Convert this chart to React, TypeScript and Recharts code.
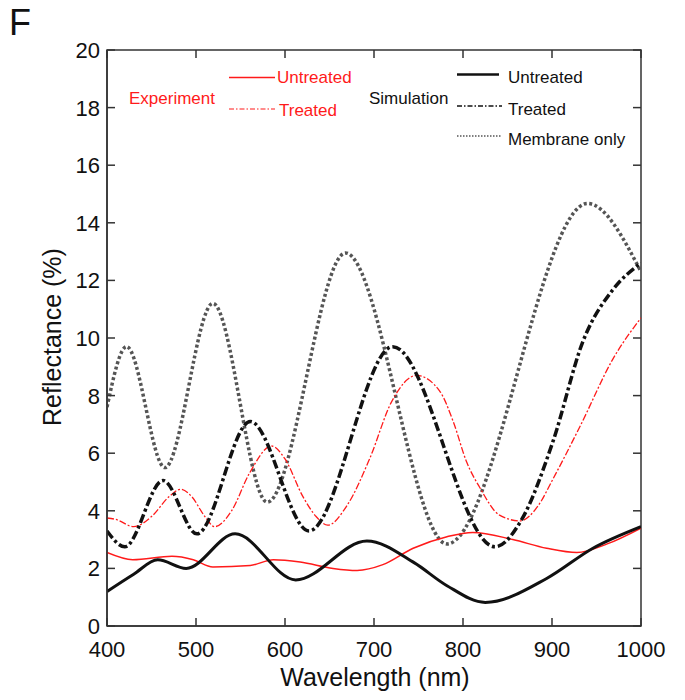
import {
  LineChart,
  Line,
  XAxis,
  YAxis,
  ReferenceArea,
} from "recharts";

// wavelength (nm) / reflectance (%) pairs
const membraneOnly = [
  [400, 7.6], [422, 9.7], [465, 5.5], [519, 11.2], [580, 4.3],
  [668, 12.95], [782, 2.85], [940, 14.67], [1000, 12.3],
];
const simTreated = [
  [400, 3.3], [420, 2.75], [463, 5.05], [501, 3.2], [561, 7.1],
  [627, 3.3], [721, 9.7], [836, 2.75], [866, 3.7], [901, 6.4],
  [935, 9.9], [969, 11.7], [1000, 12.6],
];
const simUntreated = [
  [400, 1.2], [430, 1.8], [457, 2.3], [489, 2.0], [544, 3.2],
  [612, 1.6], [692, 2.95], [745, 2.2], [782, 1.4], [825, 0.82],
  [894, 1.65], [946, 2.7], [1000, 3.45],
];
const expTreated = [
  [400, 3.75], [410, 3.7], [430, 3.45], [450, 3.8], [470, 4.5], [483, 4.75],
  [495, 4.5], [510, 3.8], [521, 3.45], [540, 4.0], [560, 5.3], [585, 6.25],
  [600, 5.8], [620, 4.5], [635, 3.8], [648, 3.5], [670, 4.2], [695, 5.8],
  [720, 7.8], [748, 8.7], [774, 8.15], [789, 7.1], [804, 5.7], [819, 4.8],
  [841, 3.85], [864, 3.65], [885, 4.2], [901, 5.1], [931, 6.9], [969, 9.3],
  [1000, 10.7],
];
const expUntreated = [
  [400, 2.55], [429, 2.3], [473, 2.42], [497, 2.3], [519, 2.05], [561, 2.1],
  [587, 2.3], [617, 2.22], [654, 2.0], [681, 1.93], [710, 2.13], [744, 2.7],
  [782, 3.1], [811, 3.25], [856, 3.0], [894, 2.7], [928, 2.55], [962, 2.85],
  [1000, 3.4],
];

const xTicks = [400, 500, 600, 700, 800, 900, 1000];
const yTicks = [0, 2, 4, 6, 8, 10, 12, 14, 16, 18, 20];

const toPoints = (arr: number[][]) => arr.map(([x, y]) => ({ x, y }));

const FONT = '"Liberation Sans", Arial, Helvetica, sans-serif';
const AXIS = "#333";
const RED = "#ff1a1a";
const GRAY = "#555";

const W = 685;
const H = 700;
const PLOT_TOP = 50;
const PLOT_RIGHT = 641;
const TICK = 8;

function XTick(props: any) {
  const { x, y, payload } = props;
  return (
    <g>
      <line x1={x} x2={x} y1={y} y2={y - TICK} stroke={AXIS} strokeWidth={1.5} />
      <line x1={x} x2={x} y1={PLOT_TOP} y2={PLOT_TOP + TICK} stroke={AXIS} strokeWidth={1.5} />
      <text x={x} y={y + 31} textAnchor="middle" fontSize={22} fontFamily={FONT} fill="#111">
        {payload.value}
      </text>
    </g>
  );
}

function YTick(props: any) {
  const { x, y, payload } = props;
  return (
    <g>
      <line x1={x} x2={x + TICK} y1={y} y2={y} stroke={AXIS} strokeWidth={1.5} />
      <line x1={PLOT_RIGHT - TICK} x2={PLOT_RIGHT} y1={y} y2={y} stroke={AXIS} strokeWidth={1.5} />
      <text x={x - 7} y={y} dy="0.36em" textAnchor="end" fontSize={22} fontFamily={FONT} fill="#111">
        {payload.value}
      </text>
    </g>
  );
}

function Legend() {
  const t = { fontFamily: FONT, fontSize: 17 };
  return (
    <svg width={W} height={H} style={{ position: "absolute", left: 0, top: 0, pointerEvents: "none" }}>
      <text x={129} y={98} dy="0.35em" fill={RED} {...t}>Experiment</text>
      <line x1={229} x2={275} y1={77.5} y2={77.5} stroke={RED} strokeWidth={1.5} />
      <text x={277} y={77.5} dy="0.35em" fill={RED} {...t}>Untreated</text>
      <line x1={229} x2={275} y1={109} y2={109} stroke={RED} strokeWidth={1.2} strokeDasharray="5 2 1.5 2" />
      <text x={279} y={110} dy="0.35em" fill={RED} {...t}>Treated</text>

      <text x={369} y={98} dy="0.35em" fill="#111" {...t}>Simulation</text>
      <line x1={457} x2={499} y1={74.5} y2={74.5} stroke="#111" strokeWidth={2.5} />
      <text x={508} y={77.5} dy="0.35em" fill="#111" {...t}>Untreated</text>
      <line x1={457} x2={502} y1={106} y2={106} stroke="#111" strokeWidth={1.5} strokeDasharray="5 2 1.5 2" />
      <text x={508} y={109} dy="0.35em" fill="#111" {...t}>Treated</text>
      <line x1={457} x2={502} y1={136} y2={136} stroke={GRAY} strokeWidth={1.5} strokeDasharray="1.5 1.5" />
      <text x={508} y={139} dy="0.35em" fill="#111" {...t}>Membrane only</text>
    </svg>
  );
}

export default function App() {
  return (
    <div style={{ position: "absolute", left: 0, top: 0, width: W, height: H, background: "#fff" }}>
      <LineChart
        width={W}
        height={H}
        margin={{ top: PLOT_TOP, right: W - PLOT_RIGHT, left: 47, bottom: 34 }}
      >
        <ReferenceArea x1={400} x2={1000} y1={0} y2={20} fill="none" stroke={AXIS} strokeWidth={1.5} ifOverflow="visible" />
        <XAxis
          type="number"
          dataKey="x"
          domain={[400, 1000]}
          ticks={xTicks}
          allowDataOverflow
          height={40}
          tickSize={0}
          tickMargin={0}
          tickLine={false}
          axisLine={{ stroke: AXIS, strokeWidth: 1.5 }}
          tick={<XTick />}
          interval={0}
        />
        <YAxis
          type="number"
          dataKey="y"
          domain={[0, 20]}
          ticks={yTicks}
          allowDataOverflow
          width={60}
          tickSize={0}
          tickMargin={0}
          tickLine={false}
          axisLine={{ stroke: AXIS, strokeWidth: 1.5 }}
          tick={<YTick />}
          interval={0}
        />
        <Line
          data={toPoints(membraneOnly)}
          dataKey="y"
          type="monotone"
          stroke={GRAY}
          strokeWidth={3.5}
          strokeDasharray="3 2.5"
          dot={false}
          isAnimationActive={false}
        />
        <Line
          data={toPoints(expUntreated)}
          dataKey="y"
          type="monotone"
          stroke={RED}
          strokeWidth={1.5}
          dot={false}
          isAnimationActive={false}
        />
        <Line
          data={toPoints(expTreated)}
          dataKey="y"
          type="monotone"
          stroke={RED}
          strokeWidth={1.3}
          strokeDasharray="7 2 2 2"
          dot={false}
          isAnimationActive={false}
        />
        <Line
          data={toPoints(simTreated)}
          dataKey="y"
          type="monotone"
          stroke="#111"
          strokeWidth={3.5}
          strokeDasharray="9 3 3 3"
          dot={false}
          isAnimationActive={false}
        />
        <Line
          data={toPoints(simUntreated)}
          dataKey="y"
          type="monotone"
          stroke="#111"
          strokeWidth={3}
          dot={false}
          isAnimationActive={false}
        />
      </LineChart>
      <Legend />
      <div style={{ position: "absolute", left: 9, top: 0, fontFamily: FONT, fontSize: 36, lineHeight: "46px", color: "#111" }}>F</div>
      <div style={{ position: "absolute", left: 0, top: 663, width: 750, textAlign: "center", fontFamily: FONT, fontSize: 25, color: "#111" }}>
        Wavelength (nm)
      </div>
      <div
        style={{
          position: "absolute",
          left: 52,
          top: 337,
          transform: "translate(-50%, -50%) rotate(-90deg)",
          whiteSpace: "nowrap",
          fontFamily: FONT,
          fontSize: 25,
          color: "#111",
        }}
      >
        Reflectance (%)
      </div>
    </div>
  );
}
